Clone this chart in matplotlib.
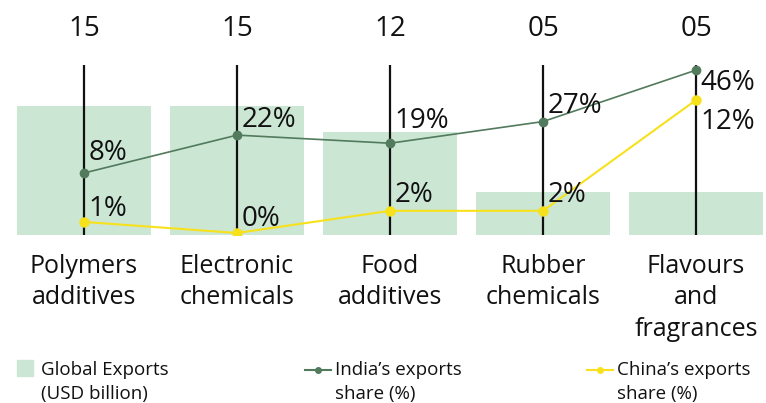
import numpy as np
import matplotlib
matplotlib.use("Agg")
import matplotlib.pyplot as plt
from matplotlib.patches import Rectangle
from matplotlib.lines import Line2D
import matplotlib.transforms as mtransforms

plt.rcParams['font.family'] = ['Open Sans', 'DejaVu Sans']

# data
categories = ["Polymers\nadditives", "Electronic\nchemicals", "Food\nadditives",
              "Rubber\nchemicals", "Flavours\nand\nfragrances"]
global_exports = [15, 15, 12, 5, 5]          # USD billion
india_share = [8, 22, 19, 27, 46]            # %
china_share = [1, 0, 2, 2, 12]               # %

bar_col = "#cce6d4"
india_col = "#527a5c"
china_col = "#f7e11b"
txt_col = "#111111"

fig = plt.figure(figsize=(7.66, 4.03), dpi=100)
ax = fig.add_axes([0.0218, 0.4169, 0.9747, 0.4218])
ax_in = ax.twinx()
ax_cn = ax.twinx()

x = np.arange(len(categories))

# bars
ax.bar(x, global_exports, width=0.876, color=bar_col, zorder=1)
ax.set_xlim(-0.44, 4.44)
ax.set_ylim(0, 19.8)
# vertical lines
ax.vlines(x, 0, 19.8, color=txt_col, lw=1.6, zorder=2)

# lines
ax_in.plot(x, india_share, color=india_col, lw=1.2, marker="o", ms=6, zorder=3)
ax_in.set_ylim(-14.9, 47.9)
ax_cn.plot(x, china_share, color=china_col, lw=1.5, marker="o", ms=6.5, zorder=3)
ax_cn.set_ylim(-0.18, 15.16)

for a in (ax, ax_in, ax_cn):
    for s in a.spines.values():
        s.set_visible(False)
    a.set_xticks([])
    a.set_yticks([])
    a.patch.set_visible(False)

# percentage labels (offsets in points)
in_off = [(3, 4), (3, 1), (3, 6), (3, 1), (3, 1)]
in_va = ["bottom", "bottom", "bottom", "bottom", "top"]
for i, v in enumerate(india_share):
    ax_in.annotate(f"{v}%", (x[i], v), xytext=in_off[i], textcoords="offset points",
                   ha="left", va=in_va[i], fontsize=20, color=txt_col)
cn_off = [(3, -1), (3, 0), (3, 1), (3, 1), (3, -6)]
cn_va = ["bottom", "bottom", "bottom", "bottom", "top"]
for i, v in enumerate(china_share):
    ax_cn.annotate(f"{v}%", (x[i], v), xytext=cn_off[i], textcoords="offset points",
                   ha="left", va=cn_va[i], fontsize=20, color=txt_col)

# top values
trans_top = mtransforms.blended_transform_factory(ax.transData, fig.transFigure)
for i, v in enumerate(global_exports):
    ax.text(x[i], 0.928, f"{v:02d}", transform=trans_top, ha="center", va="center",
            fontsize=20, color=txt_col)

# category labels
for i, c in enumerate(categories):
    ax.text(x[i], 1 - 254 / 403, c, transform=trans_top, ha="center", va="top",
            fontsize=18, color=txt_col, linespacing=1.33)

# legend (drawn manually)
W, H = 766.0, 403.0
fig.patches.append(Rectangle((17 / W, 1 - 376 / H), 16 / W, 16 / H,
                             transform=fig.transFigure, color=bar_col))
fig.text(41 / W, 1 - 361 / H, "Global Exports\n(USD billion)", ha="left", va="top",
         fontsize=13.5, color=txt_col, linespacing=1.4)
for x0, col, lab in [(305, india_col, "India\u2019s exports\nshare (%)"),
                     (587, china_col, "China\u2019s exports\nshare (%)")]:
    fig.lines.append(Line2D([x0 / W, (x0 + 26) / W], [1 - 370 / H] * 2, color=col, lw=1.5,
                            transform=fig.transFigure))
    fig.lines.append(Line2D([(x0 + 13) / W], [1 - 370 / H], color=col, marker="o", ms=4,
                            transform=fig.transFigure))
    fig.text((x0 + 30) / W, 1 - 361 / H, lab, ha="left", va="top",
             fontsize=13.5, color=txt_col, linespacing=1.4)

fig.savefig("out.png", dpi=100)
